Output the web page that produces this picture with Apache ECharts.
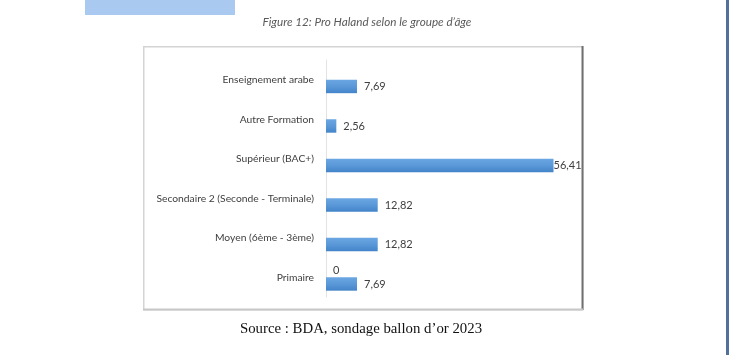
<!DOCTYPE html>
<html>
<head>
<meta charset="utf-8">
<script src="https://cdn.jsdelivr.net/npm/echarts@6/dist/echarts.min.js"></script>
<style>
html,body{margin:0;padding:0;background:#fff;}
#c{width:729px;height:355px;}
</style>
</head>
<body>
<div id="c"></div>
<script>
// Data (top to bottom)
var categories = ["Enseignement arabe", "Autre Formation", "Supérieur (BAC+)", "Secondaire 2 (Seconde - Terminale)", "Moyen (6ème - 3ème)", "Primaire"];
var mainValues = [7.69, 2.56, 56.41, 12.82, 12.82, 7.69];
var secondValues = [null, null, null, null, null, 0];
var titleText = "Figure 12: Pro Haland selon le groupe d’âge";
var sourceText = "Source : BDA, sondage ballon d’or 2023";

function fmt(v) { return String(v.toFixed(2)).replace('.', ','); }

var barColor = new echarts.graphic.LinearGradient(0, 0, 0, 1, [
  {offset: 0, color: '#6aa6e2'},
  {offset: 0.5, color: '#5a98d8'},
  {offset: 1, color: '#4384c9'}
]);

var labelFont = 'Lato';

var chart = echarts.init(document.getElementById('c'), null, {renderer: 'canvas'});
chart.setOption({
  animation: false,
  grid: {left: 326, top: 60, width: 242, height: 237, containLabel: false},
  xAxis: {
    type: 'value', min: 0, max: 60, show: false
  },
  yAxis: {
    type: 'category', inverse: true, data: categories,
    axisLine: {show: true, lineStyle: {color: '#e3e3e3', width: 1}},
    axisTick: {show: false},
    axisLabel: {color: '#404040', fontSize: 10.3, fontFamily: labelFont, margin: 12}
  },
  series: [
    {
      name: 's2', type: 'bar', data: secondValues, barGap: '0%', barCategoryGap: '32%',
      itemStyle: {color: barColor},
      label: {show: true, position: 'right', distance: 7, color: '#404040', fontSize: 11, fontFamily: labelFont,
        formatter: function (p) { return p.value == null ? '' : fmt(p.value).replace(',00',''); }}
    },
    {
      name: 's1', type: 'bar',
      data: mainValues.map(function (v, i) {
        return i === 2 ? {value: v, label: {distance: 0}} : v;
      }),
      barGap: '0%', barCategoryGap: '32%',
      itemStyle: {color: barColor},
      label: {show: true, position: 'right', distance: 7, color: '#404040', fontSize: 11, fontFamily: labelFont,
        formatter: function (p) { return fmt(p.value); }}
    }
  ],
  graphic: [
    {type: 'rect', left: 85, top: 0, shape: {width: 150, height: 15}, style: {fill: '#a9c9f0'}, silent: true, z: -1},
    {type: 'rect', left: 726, top: 0, shape: {width: 3, height: 355}, style: {fill: '#52709a'}, silent: true},
    {type: 'rect', left: 143, top: 46, shape: {width: 439, height: 263}, style: {fill: '#fff', stroke: '#d4d4d4', lineWidth: 1.5}, silent: true, z: -10},
    {type: 'line', shape: {x1: 582.5, y1: 46, x2: 582.5, y2: 310}, style: {stroke: '#707070', lineWidth: 2}, silent: true},
    {type: 'line', shape: {x1: 143, y1: 309.5, x2: 583, y2: 309.5}, style: {stroke: '#c8c8c8', lineWidth: 2}, silent: true},
    {type: 'text', x: 367, y: 22, style: {text: titleText, fill: '#595959', font: 'italic 11.7px Lato', textAlign: 'center', textVerticalAlign: 'middle'}, silent: true},
    {type: 'text', x: 361, y: 329, style: {text: sourceText, fill: '#111', font: '14.8px "Liberation Serif"', textAlign: 'center', textVerticalAlign: 'middle'}, silent: true}
  ]
});
</script>
</body>
</html>
